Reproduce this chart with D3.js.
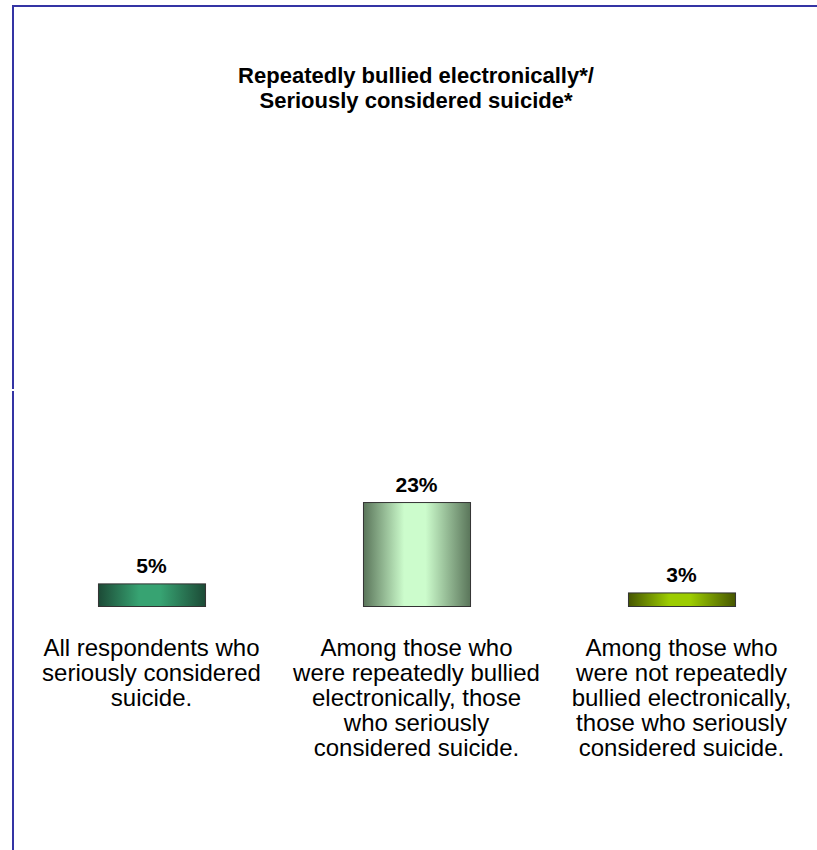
<!DOCTYPE html>
<html>
<head>
<meta charset="utf-8">
<script src="https://cdn.jsdelivr.net/npm/d3@7"></script>
<style>
  html, body { margin: 0; padding: 0; background: #fff; }
  svg { display: block; }
  text { font-family: Arial, "Liberation Sans", Helvetica, sans-serif; fill: #000; }
</style>
</head>
<body>
<svg id="chart" width="817" height="850"></svg>
<script>
// ---- data ----
const titleLines = ["Repeatedly bullied electronically*/", "Seriously considered suicide*"];
const categories = ["all", "bullied", "notBullied"];
const categoryLabels = [
  ["All respondents who", "seriously considered", "suicide."],
  ["Among those who", "were repeatedly bullied", "electronically, those", "who seriously", "considered suicide."],
  ["Among those who", "were not repeatedly", "bullied electronically,", "those who seriously", "considered suicide."]
];
const values = [5, 23, 3];
const valueLabels = ["5%", "23%", "3%"];
const barEdgeColors = ["#1c4a36", "#5a755a", "#465600"];
const barCenterColors = ["#37a372", "#ccfccc", "#9ccc00"];

// ---- drawing ----
const svg = d3.select("#chart");
const W = 817, H = 850;

// frame (top and left lines)
const frame = svg.append("g").attr("shape-rendering", "crispEdges");
const frameColor = "#3434a4";
frame.append("line").attr("x1", 12).attr("x2", W).attr("y1", 6).attr("y2", 6)
  .attr("stroke", frameColor).attr("stroke-width", 2);
frame.append("line").attr("x1", 13).attr("x2", 13).attr("y1", 5).attr("y2", 389)
  .attr("stroke", frameColor).attr("stroke-width", 2);
frame.append("line").attr("x1", 13).attr("x2", 13).attr("y1", 391).attr("y2", H)
  .attr("stroke", frameColor).attr("stroke-width", 2);

function centeredText(g, x, y, str, size, weight) {
  return g.append("text")
    .attr("x", x).attr("y", y)
    .attr("text-anchor", "middle")
    .attr("font-size", size)
    .attr("font-weight", weight)
    .text(str);
}

// title
const tg = svg.append("g");
titleLines.forEach((t, i) => centeredText(tg, 416, 83 + i * 25, t, 22, "bold"));

// scales
const x = d3.scaleBand().domain(categories).range([19, 814])
  .paddingInner(0.596).paddingOuter(0.298);
const y = d3.scaleLinear().domain([0, 100]).range([606, 154]);

// gradients
const defs = svg.append("defs");
categories.forEach((c, i) => {
  const g = defs.append("linearGradient").attr("id", "grad" + i)
    .attr("x1", "0%").attr("x2", "100%").attr("y1", "0%").attr("y2", "0%");
  g.append("stop").attr("offset", "0%").attr("stop-color", barEdgeColors[i]);
  g.append("stop").attr("offset", "38%").attr("stop-color", barCenterColors[i]);
  g.append("stop").attr("offset", "58%").attr("stop-color", barCenterColors[i]);
  g.append("stop").attr("offset", "100%").attr("stop-color", barEdgeColors[i]);
});

// bars
svg.append("g").selectAll("rect").data(values).join("rect")
  .attr("x", (d, i) => x(categories[i]) + 0.5)
  .attr("y", d => y(d) + 0.5)
  .attr("width", x.bandwidth())
  .attr("height", d => y(0) - y(d))
  .attr("fill", (d, i) => `url(#grad${i})`)
  .attr("stroke", "#333")
  .attr("stroke-width", 1);

// value labels
const vg = svg.append("g");
values.forEach((v, i) => {
  centeredText(vg, x(categories[i]) + x.bandwidth() / 2, y(v) - 10.5, valueLabels[i], 21, "bold");
});

// category labels
const cg = svg.append("g");
categoryLabels.forEach((lines, i) => {
  lines.forEach((ln, j) => {
    centeredText(cg, x(categories[i]) + x.bandwidth() / 2, 656 + j * 25, ln, 24, "normal");
  });
});
</script>
</body>
</html>
